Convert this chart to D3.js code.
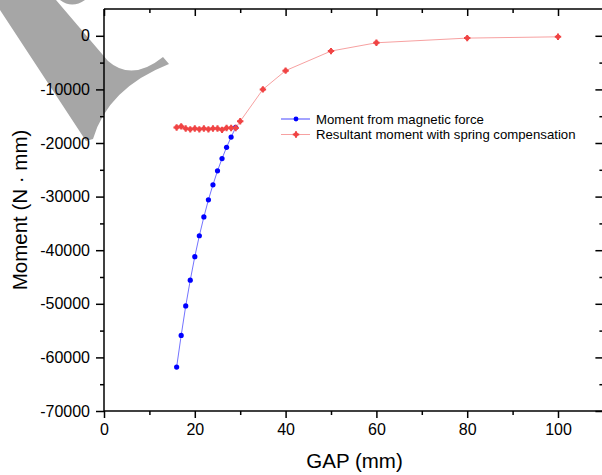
<!DOCTYPE html>
<html>
<head>
  <meta charset="utf-8">
  <title>Moment vs GAP</title>
  <script src="https://d3js.org/d3.v7.min.js"></script>
  <style>
    body { margin: 0; background: #fff; }
    svg { font-family: "Liberation Sans", Arial, sans-serif; }
    .axis path, .axis line { stroke: #000; stroke-width: 1.5px; }
    .axis text { fill: #000; font-size: 16px; }
  </style>
</head>
<body>
<script>
// data
var magGap = [16, 17, 18, 19, 20, 21, 22, 23, 24, 25, 26, 27, 28, 29];
var magMoment = [-61800, -55900, -50400, -45600, -41200, -37300, -33800,
                 -30600, -27800, -25200, -22900, -20800, -18900, -17100];

var resGap = [16, 17, 18, 19, 20, 21, 22, 23, 24, 25, 26, 27, 28, 29, 30,
              35, 40, 50, 60, 80, 100];
var resMoment = [-17100, -16900, -17300, -17450, -17300, -17450, -17300,
                 -17450, -17300, -17300, -17550, -17200, -17200, -17200,
                 -15950, -10000, -6500, -2850, -1300, -430, -190];

var xTicks = [0, 20, 40, 60, 80, 100];
var xMinor = [10, 30, 50, 70, 90];
var yTicks = [0, -10000, -20000, -30000, -40000, -50000, -60000, -70000];
var yMinor = [-5000, -15000, -25000, -35000, -45000, -55000, -65000];

var seriesNames = ['Moment from magnetic force', 'Resultant moment with spring compensation'];

var W = 602, H = 475;
var LEFT = 104, TOP = 9, BOTTOM = 411;

var svg = d3.select('body').append('svg')
  .attr('width', W)
  .attr('height', H);

// grey watermark fragment in the corner
svg.append('path')
  .attr('fill', '#a6a6a6')
  .attr('d', 'M0,0 L56,0 L108,61 Q132,82 163,57 L169,64 Q108,88 93,139 L86,141 L0,10 Z ' +
             'M60,0 Q72,9 85,0 Z');

var x = d3.scaleLinear().domain([0, 110]).range([LEFT, LEFT + 499.4]);
var y = d3.scaleLinear().domain([-70000, 5000]).range([BOTTOM, TOP]);

// bottom axis
svg.append('g').attr('class', 'axis')
  .attr('transform', 'translate(0,' + BOTTOM + ')')
  .call(d3.axisBottom(x).tickValues(xTicks).tickSize(7).tickSizeOuter(0).tickPadding(6))
  .call(function(g) { g.select('.domain').attr('d', 'M' + LEFT + ',0H' + x.range()[1]); });
svg.append('g').attr('class', 'axis')
  .attr('transform', 'translate(0,' + BOTTOM + ')')
  .call(d3.axisBottom(x).tickValues(xMinor).tickSize(4).tickFormat(''))
  .call(function(g) { g.select('.domain').remove(); });

// top axis (inward ticks)
svg.append('g').attr('class', 'axis')
  .attr('transform', 'translate(0,' + TOP + ')')
  .call(d3.axisTop(x).tickValues(xTicks).tickSize(-7).tickSizeOuter(0).tickFormat(''))
  .call(function(g) { g.select('.domain').attr('d', 'M' + LEFT + ',0H' + x.range()[1]); });
svg.append('g').attr('class', 'axis')
  .attr('transform', 'translate(0,' + TOP + ')')
  .call(d3.axisTop(x).tickValues(xMinor).tickSize(-4).tickFormat(''))
  .call(function(g) { g.select('.domain').remove(); });

// left axis
svg.append('g').attr('class', 'axis')
  .attr('transform', 'translate(' + LEFT + ',0)')
  .call(d3.axisLeft(y).tickValues(yTicks).tickSize(8).tickSizeOuter(0).tickPadding(6)
    .tickFormat(d3.format('d')))
  .call(function(g) { g.select('.domain').attr('d', 'M0,' + TOP + 'V' + BOTTOM); })
  .call(function(g) { g.selectAll('text').text(function(d) { return d === 0 ? '0' : '-' + Math.abs(d); }); });
svg.append('g').attr('class', 'axis')
  .attr('transform', 'translate(' + LEFT + ',0)')
  .call(d3.axisLeft(y).tickValues(yMinor).tickSize(4).tickFormat(''))
  .call(function(g) { g.select('.domain').remove(); });

// right axis (inward ticks)
var RIGHT = x.range()[1];
svg.append('g').attr('class', 'axis')
  .attr('transform', 'translate(' + RIGHT + ',0)')
  .call(d3.axisRight(y).tickValues(yTicks).tickSize(-8).tickSizeOuter(0).tickFormat(''))
  .call(function(g) { g.select('.domain').attr('d', 'M0,' + TOP + 'V' + BOTTOM); });
svg.append('g').attr('class', 'axis')
  .attr('transform', 'translate(' + RIGHT + ',0)')
  .call(d3.axisRight(y).tickValues(yMinor).tickSize(-4).tickFormat(''))
  .call(function(g) { g.select('.domain').remove(); });

// axis titles
svg.append('text')
  .attr('x', 354.5).attr('y', 468)
  .attr('text-anchor', 'middle')
  .style('font-size', '20.5px')
  .text('GAP (mm)');
svg.append('text')
  .attr('transform', 'translate(27,210) rotate(-90)')
  .attr('text-anchor', 'middle')
  .style('font-size', '20.5px')
  .text('Moment (N \u00b7 mm)');

// lines
var line = d3.line()
  .x(function(d) { return x(d[0]); })
  .y(function(d) { return y(d[1]); });

var magData = d3.zip(magGap, magMoment);
var resData = d3.zip(resGap, resMoment);

var redMarker = 'M-1,-3.2H1V-1H3.2V1H1V3.2H-1V1H-3.2V-1H-1Z';

svg.append('path')
  .datum(magData)
  .attr('fill', 'none')
  .attr('stroke', '#7373ff')
  .attr('stroke-width', 1)
  .attr('d', line);
svg.append('g').selectAll('circle')
  .data(magData).enter().append('circle')
  .attr('cx', function(d) { return x(d[0]); })
  .attr('cy', function(d) { return y(d[1]); })
  .attr('r', 2.6)
  .attr('fill', '#0000ff');

svg.append('path')
  .datum(resData)
  .attr('fill', 'none')
  .attr('stroke', '#f7a1a1')
  .attr('stroke-width', 1)
  .attr('d', line);
var redG = svg.append('g').selectAll('g')
  .data(resData).enter().append('g')
  .attr('transform', function(d) { return 'translate(' + x(d[0]) + ',' + y(d[1]) + ')'; })
  .attr('fill', '#f04444');
redG.append('circle').attr('r', 2.4);
redG.append('path').attr('d', redMarker);

// legend
var legend = svg.append('g').attr('transform', 'translate(281,0)');
var legendY = [119, 134.5];
legend.append('line')
  .attr('x1', 0).attr('x2', 29).attr('y1', legendY[0]).attr('y2', legendY[0])
  .attr('stroke', '#a3a3ff').attr('stroke-width', 2);
legend.append('circle')
  .attr('cx', 15).attr('cy', legendY[0]).attr('r', 2.4).attr('fill', '#0000ff');
legend.append('line')
  .attr('x1', 0).attr('x2', 29).attr('y1', legendY[1]).attr('y2', legendY[1])
  .attr('stroke', '#f7a1a1').attr('stroke-width', 1);
legend.append('g')
  .attr('transform', 'translate(15,' + legendY[1] + ')')
  .attr('fill', '#f04444')
  .call(function(g) { g.append('circle').attr('r', 2.2); g.append('path').attr('d', redMarker); });
legend.selectAll('text.lab')
  .data(seriesNames).enter().append('text')
  .attr('class', 'lab')
  .attr('x', 35)
  .attr('y', function(d, i) { return legendY[i] + 4.6; })
  .style('font-size', '13.2px')
  .text(function(d) { return d; });
</script>
</body>
</html>
